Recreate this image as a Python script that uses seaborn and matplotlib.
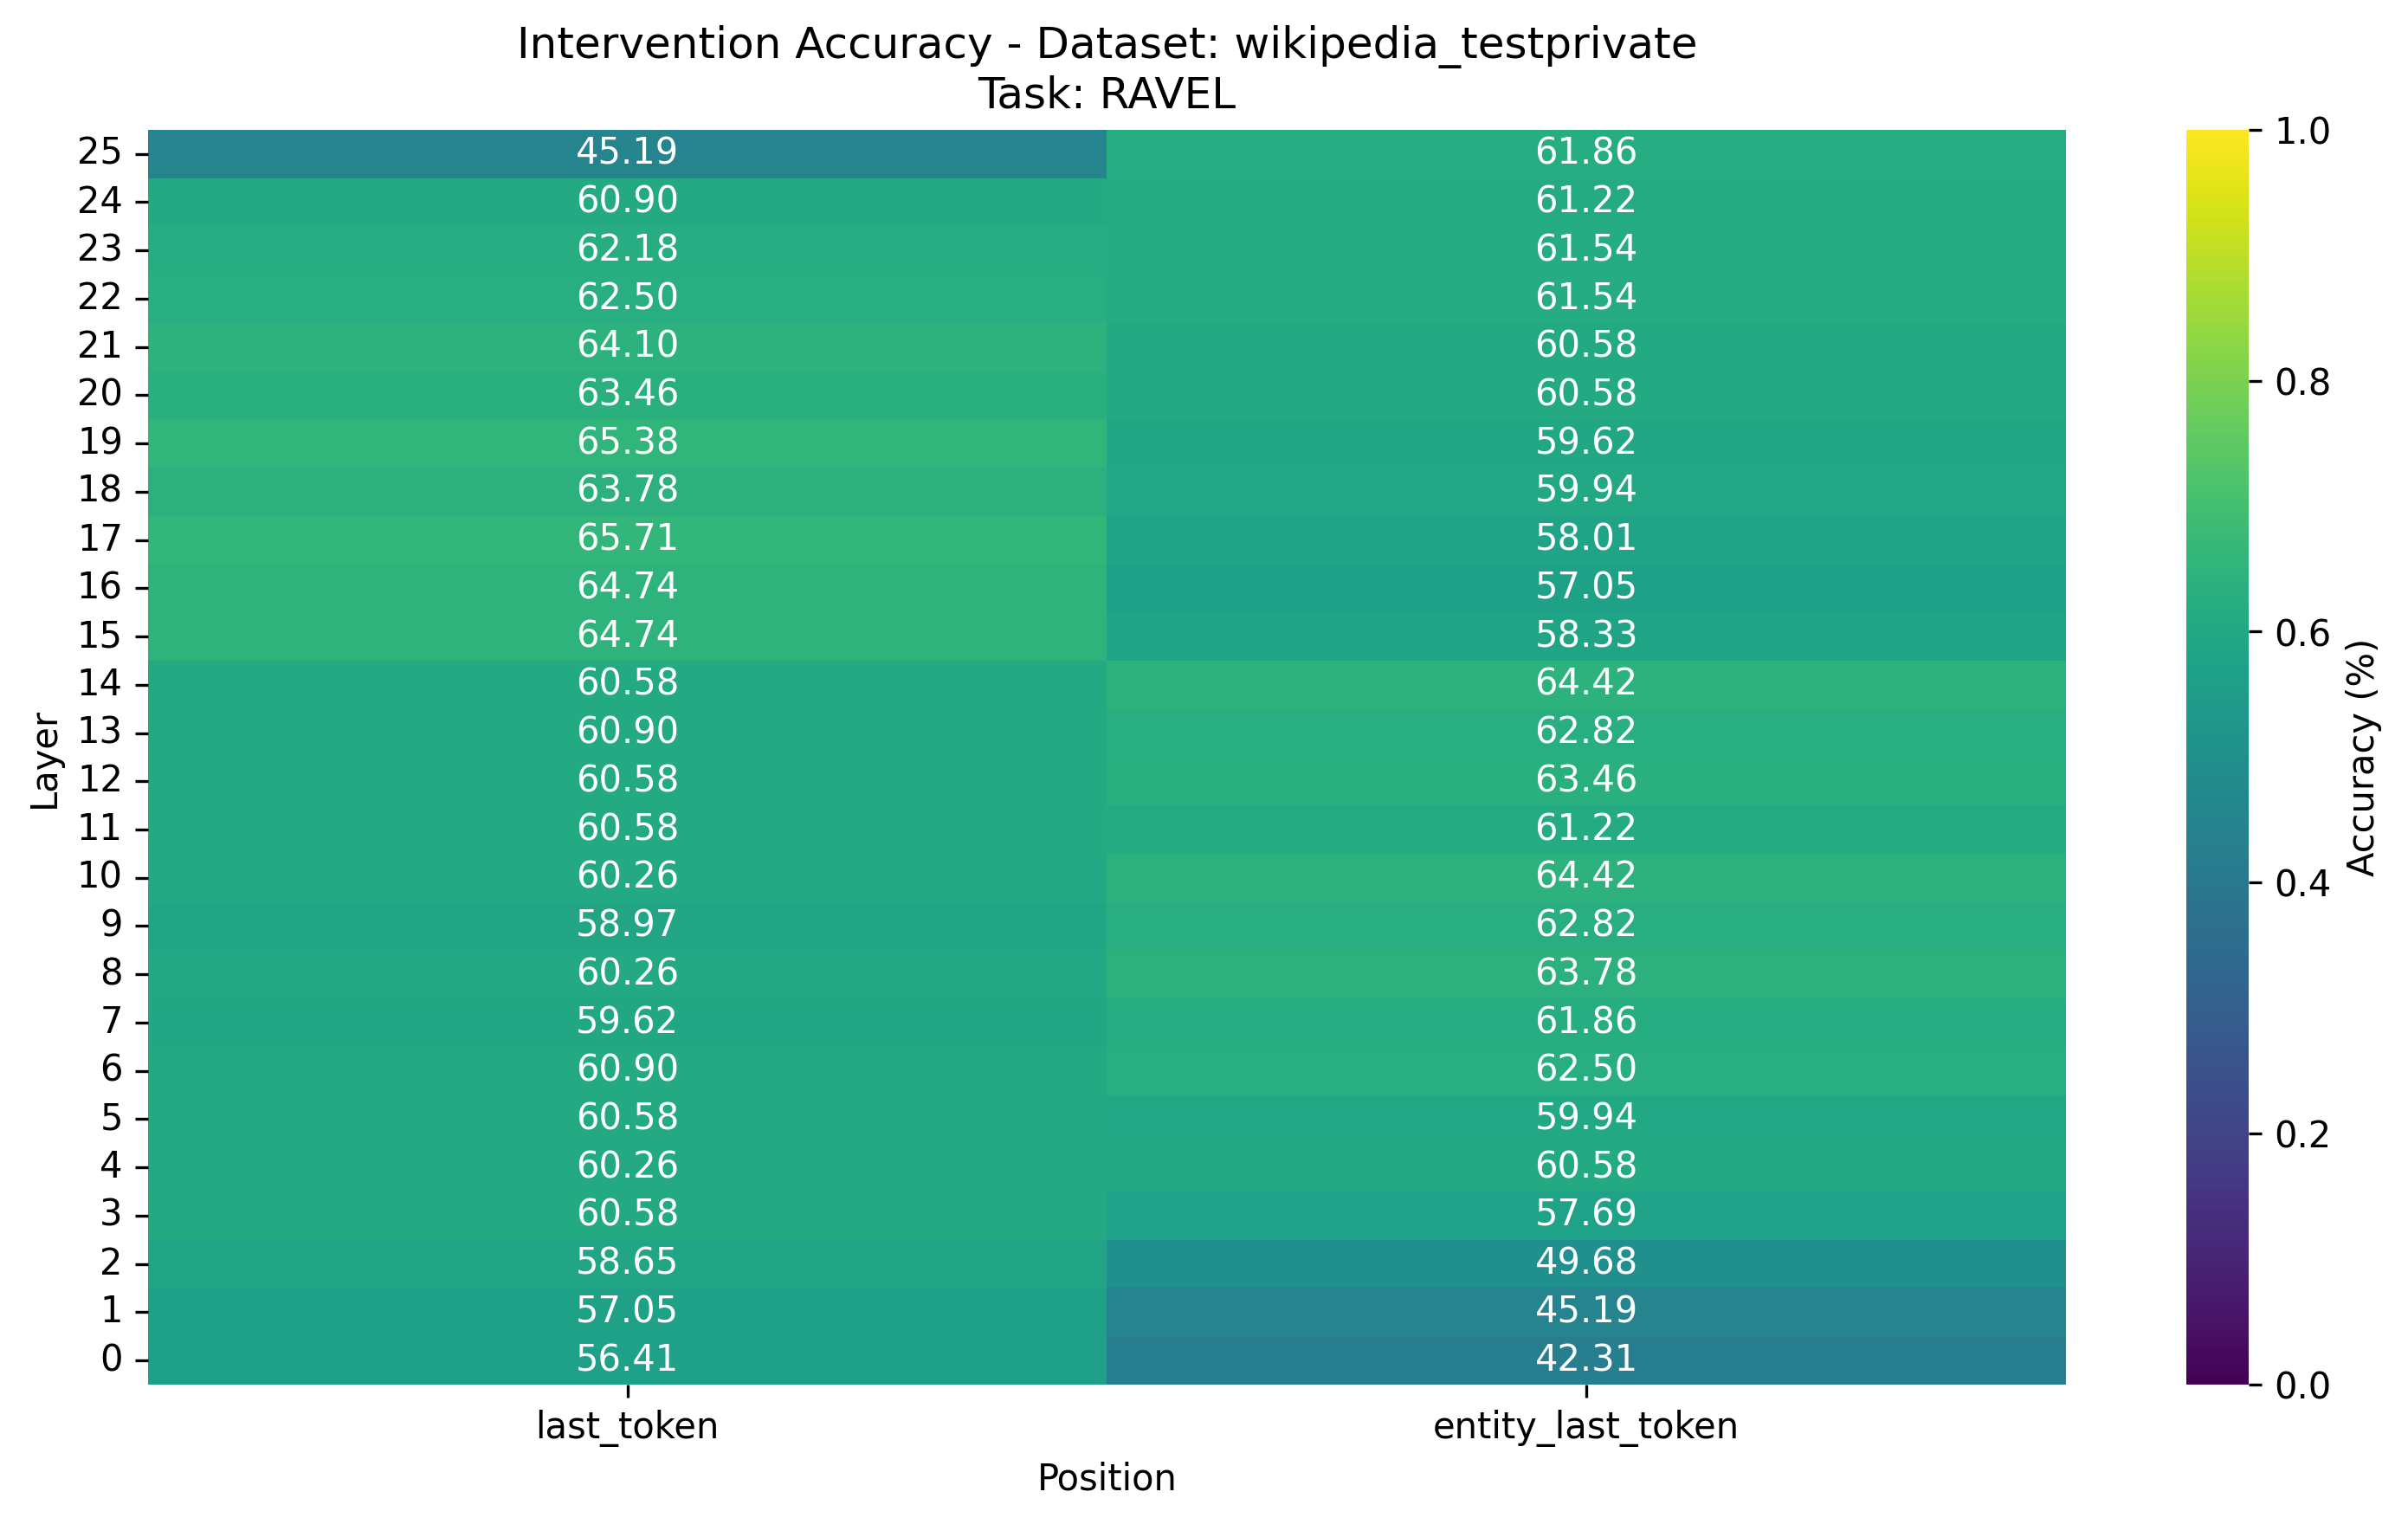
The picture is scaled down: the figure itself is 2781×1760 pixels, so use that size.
import matplotlib
matplotlib.use("Agg")
import matplotlib.pyplot as plt
import seaborn as sns
import numpy as np
import pandas as pd

# layers from top (25) to bottom (0)
layers = list(range(25, -1, -1))
positions = ["last_token", "entity_last_token"]

last_token = [45.19, 60.90, 62.18, 62.50, 64.10, 63.46, 65.38, 63.78, 65.71, 64.74,
              64.74, 60.58, 60.90, 60.58, 60.58, 60.26, 58.97, 60.26, 59.62, 60.90,
              60.58, 60.26, 60.58, 58.65, 57.05, 56.41]
entity_last_token = [61.86, 61.22, 61.54, 61.54, 60.58, 60.58, 59.62, 59.94, 58.01, 57.05,
                     58.33, 64.42, 62.82, 63.46, 61.22, 64.42, 62.82, 63.78, 61.86, 62.50,
                     59.94, 60.58, 57.69, 49.68, 45.19, 42.31]

df = pd.DataFrame({"last_token": last_token, "entity_last_token": entity_last_token},
                  index=layers) / 100.0
labels = (df * 100).map(lambda v: f"{v:.2f}")

fig = plt.figure(figsize=(9.27, 5.867), dpi=300)
ax = fig.add_axes([0.0615, 0.0915, 0.7964, 0.8233])
cax = fig.add_axes([0.908, 0.0915, 0.0259, 0.8233])

sns.heatmap(df, ax=ax, cbar_ax=cax, cmap="viridis", vmin=0, vmax=1,
            annot=labels.values, fmt="", annot_kws={"color": "white", "fontsize": 10},
            cbar_kws={"label": "Accuracy (%)"})

ax.set_title("Intervention Accuracy - Dataset: wikipedia_testprivate\nTask: RAVEL", fontsize=12)
ax.set_xlabel("Position")
ax.set_ylabel("Layer")
ax.set_yticklabels(layers, rotation=0)

fig.savefig("out.png", dpi=300)
